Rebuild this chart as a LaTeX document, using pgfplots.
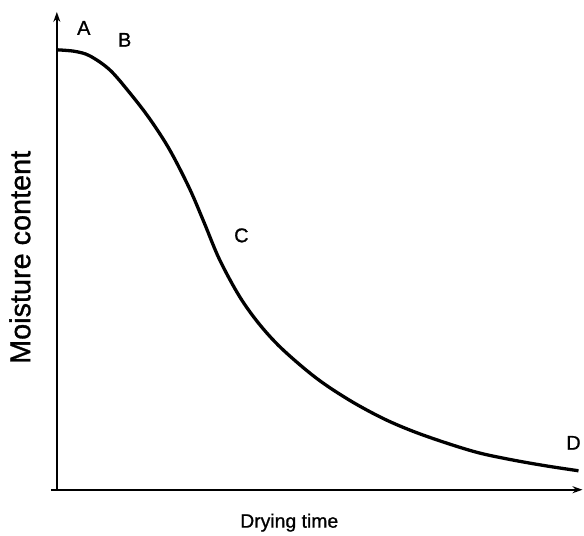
\documentclass[border=0pt]{standalone}
\usepackage{pgfplots}
\pgfplotsset{compat=1.18}
\usepackage{fontspec}
\setmainfont{Liberation Sans}
\newfontfamily\lbl{Liberation Sans}[FakeBold=1.0]
\usetikzlibrary{arrows.meta}
\begin{document}
\begin{tikzpicture}
\begin{axis}[
  scale only axis,
  width=527bp, height=479bp,
  xmin=0, xmax=527, ymin=0, ymax=479,
  axis lines=left,
  axis line style={line width=2.3bp, -{Stealth[length=10bp,width=7bp]}},
  xtick=\empty, ytick=\empty,
  clip=false,
]
\path (axis cs:-57,-46) rectangle (axis cs:527,491);
\addplot[black, line width=3.3bp, smooth, tension=0.55] coordinates {
(1,441) (18,439.5) (33,435) (53,421) (73,398) (93,372) (113,341) (133,302)
(148,267) (163,231) (183,194) (203,166) (226,141) (260,112) (293,90)
(326,72) (356,59) (390,47) (423,37) (456,30) (490,24) (523,19)
};
\draw[line width=2.3bp] (axis cs:-6,0) -- (axis cs:0,0);
\node[font=\lbl\fontsize{20}{20}\selectfont] at (axis cs:27,463) {A};
\node[font=\lbl\fontsize{20}{20}\selectfont] at (axis cs:68,451) {B};
\node[font=\lbl\fontsize{20}{20}\selectfont] at (axis cs:185,255) {C};
\node[font=\lbl\fontsize{20}{20}\selectfont] at (axis cs:518,47) {D};
\node[rotate=90, font=\lbl\fontsize{29}{30}\selectfont] at (axis cs:-37,233) {Moisture content};
\node[font=\lbl\fontsize{19.5}{20}\selectfont] at (axis cs:233,-33) {Drying time};
\end{axis}
\end{tikzpicture}
\end{document}
